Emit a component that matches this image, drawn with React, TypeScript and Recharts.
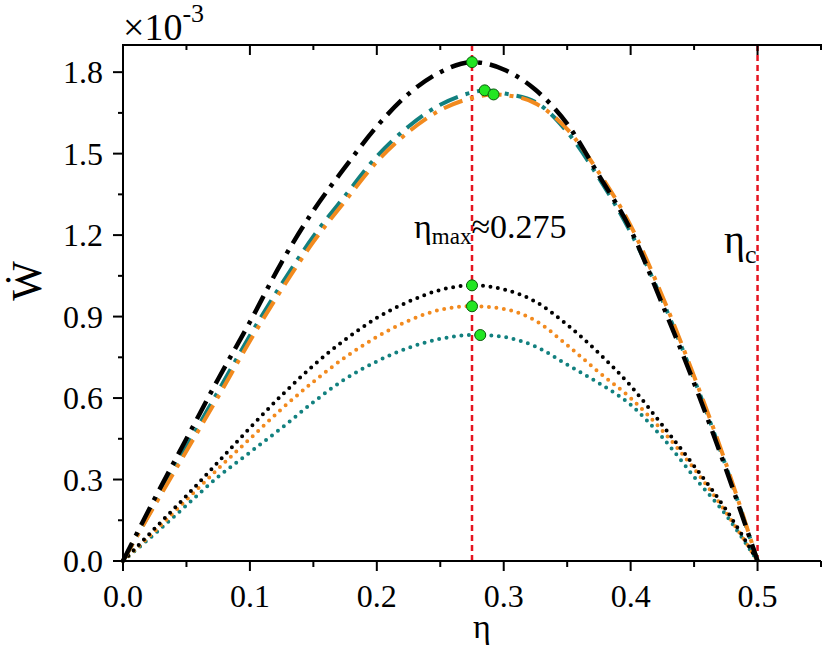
import React, { useEffect } from 'react';
import {
  ComposedChart,
  Line,
  XAxis,
  YAxis,
  ReferenceLine,
  ReferenceDot,
  Label,
} from 'recharts';

const ETA = [
  0, 0.025, 0.05, 0.075, 0.1, 0.125, 0.15, 0.175, 0.2, 0.225, 0.25, 0.275, 0.3,
  0.325, 0.35, 0.375, 0.4, 0.425, 0.45, 0.475, 0.5,
];

// W values (x10^-3)
const BLACK_DASHDOT = [
  0, 0.23, 0.45, 0.67, 0.88, 1.1, 1.29, 1.45, 1.6, 1.72, 1.8, 1.837, 1.81, 1.735,
  1.61, 1.42, 1.22, 0.945, 0.655, 0.34, 0,
];
const TEAL_DASHDOT = [
  0, 0.21, 0.42, 0.625, 0.83, 1.02, 1.195, 1.345, 1.49, 1.6, 1.68, 1.725, 1.722,
  1.69, 1.58, 1.41, 1.21, 0.96, 0.67, 0.35, 0,
];
const ORANGE_DASHDOT = [
  0, 0.205, 0.405, 0.605, 0.81, 1.0, 1.175, 1.325, 1.47, 1.58, 1.66, 1.705,
  1.716, 1.685, 1.59, 1.43, 1.235, 0.975, 0.68, 0.36, 0,
];
const BLACK_DOT = [
  0, 0.12, 0.24, 0.365, 0.49, 0.61, 0.72, 0.815, 0.895, 0.955, 0.998, 1.015, 1.0,
  0.955, 0.87, 0.765, 0.645, 0.5, 0.35, 0.19, 0,
];
const ORANGE_DOT = [
  0, 0.11, 0.225, 0.34, 0.45, 0.56, 0.66, 0.75, 0.825, 0.885, 0.925, 0.938,
  0.928, 0.885, 0.795, 0.695, 0.6, 0.48, 0.34, 0.18, 0,
];
const TEAL_DOT = [
  0, 0.1, 0.205, 0.31, 0.4, 0.49, 0.585, 0.67, 0.735, 0.785, 0.818, 0.832, 0.825,
  0.79, 0.723, 0.655, 0.575, 0.455, 0.31, 0.17, 0,
];

// maxima marked by green dots: [eta, W]
const PEAK_BLACK_DASHDOT = [0.275, 1.837];
const PEAK_TEAL_DASHDOT = [0.285, 1.733];
const PEAK_ORANGE_DASHDOT = [0.292, 1.718];
const PEAK_BLACK_DOT = [0.275, 1.015];
const PEAK_ORANGE_DOT = [0.275, 0.938];
const PEAK_TEAL_DOT = [0.2815, 0.832];

const ETA_MAX = 0.275;
const ETA_C = 0.5;

const X_TICKS = [0, 0.05, 0.1, 0.15, 0.2, 0.25, 0.3, 0.35, 0.4, 0.45, 0.5, 0.55];
const Y_TICKS = [
  0, 0.15, 0.3, 0.45, 0.6, 0.75, 0.9, 1.05, 1.2, 1.35, 1.5, 1.65, 1.8,
];

const FONT = '"Liberation Serif", "Times New Roman", "DejaVu Serif", serif';
const TEAL = '#12807f';
const ORANGE = '#f28a1e';
const RED = '#e5131f';
const PLOT_TOP = 44;

function series(values: number[], peak: number[]) {
  const pts = ETA.map((eta, i) => ({ eta, w: values[i] }));
  if (!ETA.includes(peak[0])) pts.push({ eta: peak[0], w: peak[1] });
  return pts.sort((a, b) => a.eta - b.eta);
}

const isMajorX = (v: number) => Math.round(v * 100) % 10 === 0;
const isMajorY = (v: number) => Math.round(v * 100) % 30 === 0;

// bottom tick: outward mark + label, plus the matching inward mark on the top frame
const BottomTick = (props: any) => {
  const { x, y, payload } = props;
  const major = isMajorX(payload.value);
  return (
    <g>
      <line x1={x} y1={y} x2={x} y2={y + (major ? 10 : 6)} stroke="#000" strokeWidth={2} />
      <line
        x1={x}
        y1={PLOT_TOP}
        x2={x}
        y2={PLOT_TOP + (major ? 11 : 6)}
        stroke="#000"
        strokeWidth={2}
      />
      {major && (
        <text x={x} y={y + 46} textAnchor="middle" fontSize={32} fontFamily={FONT} fill="#000">
          {payload.value.toFixed(1)}
        </text>
      )}
    </g>
  );
};

const LeftTick = (props: any) => {
  const { x, y, payload } = props;
  const major = isMajorY(payload.value);
  return (
    <g>
      <line x1={x} y1={y} x2={x - (major ? 10 : 5)} y2={y} stroke="#000" strokeWidth={2} />
      {major && (
        <text x={x - 20} y={y + 11} textAnchor="end" fontSize={32} fontFamily={FONT} fill="#000">
          {payload.value.toFixed(1)}
        </text>
      )}
    </g>
  );
};

const dashDot = (color: string, width: number, dash: string) => ({
  stroke: color,
  strokeWidth: width,
  strokeDasharray: dash,
});

export default function App() {
  useEffect(() => {
    document.body.style.margin = '0';
  }, []);

  return (
    <div style={{ width: 825, height: 653, background: '#fff' }}>
      <ComposedChart
        width={825}
        height={653}
        margin={{ top: 44, right: 4, bottom: 0, left: 0 }}
      >
        <XAxis
          xAxisId="b"
          dataKey="eta"
          type="number"
          domain={[0, 0.55]}
          ticks={X_TICKS}
          interval={0}
          height={92}
          tickSize={0}
          tickMargin={0}
          tickLine={false}
          tick={<BottomTick />}
          axisLine={{ stroke: '#000', strokeWidth: 2 }}
          allowDuplicatedCategory={false}
        >
          <Label
            content={() => (
              <text x={482} y={638} textAnchor="middle" fontSize={34} fontFamily={FONT} fill="#000">
                η
              </text>
            )}
          />
        </XAxis>
        <XAxis
          xAxisId="t"
          orientation="top"
          type="number"
          domain={[0, 0.55]}
          height={1}
          tick={false}
          tickLine={false}
          axisLine={{ stroke: '#000', strokeWidth: 2 }}
        >
          <Label
            content={() => (
              <text x={123} y={40} fontSize={38} fontFamily={FONT} fill="#000">
                ×10
                <tspan dy={-18} fontSize={26}>
                  -3
                </tspan>
              </text>
            )}
          />
        </XAxis>
        <YAxis
          yAxisId="l"
          type="number"
          domain={[0, 1.9]}
          ticks={Y_TICKS}
          interval={0}
          width={123}
          tickSize={0}
          tickMargin={0}
          tickLine={false}
          tick={<LeftTick />}
          axisLine={{ stroke: '#000', strokeWidth: 2 }}
        >
          <Label
            content={() => (
              <text
                x={27}
                y={281}
                transform="rotate(-90 27 281)"
                textAnchor="middle"
                dominantBaseline="central"
                fontSize={42}
                fontFamily={FONT}
                fill="#000"
              >
                Ẇ
              </text>
            )}
          />
        </YAxis>
        <YAxis
          yAxisId="r"
          orientation="right"
          type="number"
          domain={[0, 1.9]}
          width={0}
          tick={false}
          tickLine={false}
          axisLine={{ stroke: '#000', strokeWidth: 2 }}
        />

        <ReferenceLine
          xAxisId="b"
          yAxisId="l"
          x={ETA_MAX}
          stroke={RED}
          strokeWidth={2.5}
          strokeDasharray="6 4"
          label={(p: any) => {
            const vx = p.viewBox.x;
            const vy = p.viewBox.y;
            return (
              <text x={vx - 58} y={vy + 193} fontSize={34} fontFamily={FONT} fill="#000">
                η
                <tspan dy={6} fontSize={23}>
                  max
                </tspan>
                <tspan dy={-6}>≈0.275</tspan>
              </text>
            );
          }}
        />
        <ReferenceLine
          xAxisId="b"
          yAxisId="l"
          x={ETA_C}
          stroke={RED}
          strokeWidth={2.5}
          strokeDasharray="6 4"
          label={(p: any) => {
            const vx = p.viewBox.x;
            const vy = p.viewBox.y;
            return (
              <text x={vx - 1} y={vy + 208} textAnchor="end" fontSize={40} fontFamily={FONT} fill="#000">
                η
                <tspan dy={10} fontSize={26}>
                  c
                </tspan>
              </text>
            );
          }}
        />

        <Line
          xAxisId="b"
          yAxisId="l"
          data={series(TEAL_DOT, PEAK_TEAL_DOT)}
          dataKey="w"
          type="monotone"
          dot={false}
          stroke={TEAL}
          strokeWidth={4}
          strokeDasharray="0 7.5"
          strokeLinecap="round"
          isAnimationActive={false}
        />
        <Line
          xAxisId="b"
          yAxisId="l"
          data={series(ORANGE_DOT, PEAK_ORANGE_DOT)}
          dataKey="w"
          type="monotone"
          dot={false}
          stroke={ORANGE}
          strokeWidth={4}
          strokeDasharray="0 7.5"
          strokeLinecap="round"
          isAnimationActive={false}
        />
        <Line
          xAxisId="b"
          yAxisId="l"
          data={series(BLACK_DOT, PEAK_BLACK_DOT)}
          dataKey="w"
          type="monotone"
          dot={false}
          stroke="#000"
          strokeWidth={4}
          strokeDasharray="0 7.5"
          strokeLinecap="round"
          isAnimationActive={false}
        />
        <Line
          xAxisId="b"
          yAxisId="l"
          data={series(TEAL_DASHDOT, PEAK_TEAL_DASHDOT)}
          dataKey="w"
          type="monotone"
          dot={false}
          {...dashDot(TEAL, 4, '20 8 4 8')}
          isAnimationActive={false}
        />
        <Line
          xAxisId="b"
          yAxisId="l"
          data={series(ORANGE_DASHDOT, PEAK_ORANGE_DASHDOT)}
          dataKey="w"
          type="monotone"
          dot={false}
          {...dashDot(ORANGE, 4, '20 8 4 8')}
          isAnimationActive={false}
        />
        <Line
          xAxisId="b"
          yAxisId="l"
          data={series(BLACK_DASHDOT, PEAK_BLACK_DASHDOT)}
          dataKey="w"
          type="monotone"
          dot={false}
          {...dashDot('#000', 4.5, '20 8 4 8')}
          isAnimationActive={false}
        />

        {[
          PEAK_BLACK_DASHDOT,
          PEAK_TEAL_DASHDOT,
          PEAK_ORANGE_DASHDOT,
          PEAK_BLACK_DOT,
          PEAK_ORANGE_DOT,
          PEAK_TEAL_DOT,
        ].map((p, i) => (
          <ReferenceDot
            key={i}
            xAxisId="b"
            yAxisId="l"
            x={p[0]}
            y={p[1]}
            r={5.5}
            fill="#22e622"
            stroke="#0b5a0b"
            strokeWidth={1}
          />
        ))}
      </ComposedChart>
    </div>
  );
}
